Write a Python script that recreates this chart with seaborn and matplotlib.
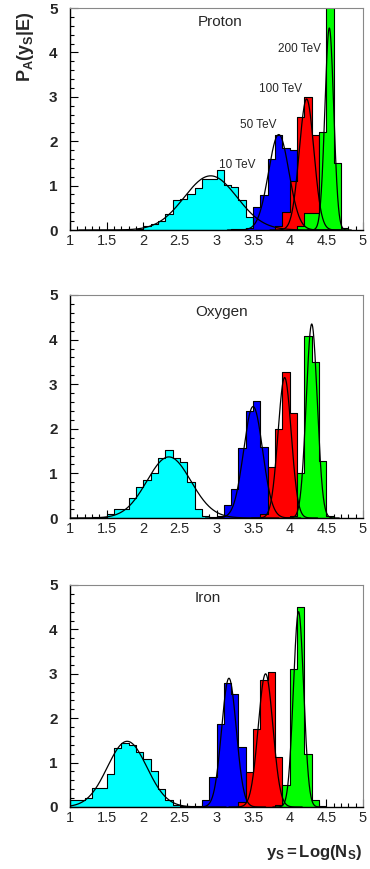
import numpy as np
import pandas as pd
import matplotlib
matplotlib.use("Agg")
import matplotlib.pyplot as plt
import seaborn as sns
from matplotlib.ticker import MultipleLocator, FuncFormatter

sns.set_theme(style="white")
plt.rcParams["font.family"] = ["Liberation Sans", "DejaVu Sans"]
plt.rcParams["mathtext.fontset"] = "custom"
plt.rcParams["mathtext.rm"] = "Liberation Sans"
plt.rcParams["mathtext.it"] = "Liberation Sans:italic"
plt.rcParams["mathtext.bf"] = "Liberation Sans:bold"

# ---------------- data ----------------
primaries = ["Proton", "Oxygen", "Iron"]
energies = ["10 TeV", "50 TeV", "100 TeV", "200 TeV"]
bin_width = 0.1

# Proton: first bin left edge and bin contents
proton_10_start = 1.3
proton_10_vals = [0.01, 0.01, 0.01, 0.01, 0.01, 0.01, 0.03, 0.10, 0.13, 0.20, 0.35,
                  0.68, 0.70, 0.80, 0.95, 1.15, 1.15, 1.35, 1.02, 0.97, 0.68, 0.30, 0.05]
proton_50_start = 3.2
proton_50_vals = [0.02, 0.03, 0.05, 0.52, 0.78, 1.60, 2.15, 1.85, 1.80, 0.50, 0.10]
proton_100_start = 3.8
proton_100_vals = [0.10, 0.40, 1.10, 2.55, 3.00, 2.15, 0.90, 0.20]
proton_200_start = 4.1
proton_200_vals = [0.10, 0.38, 0.38, 2.20, 5.30, 1.50, 0.05]

# Oxygen
oxygen_10_start = 1.3
oxygen_10_vals = [0.02, 0.03, 0.10, 0.20, 0.20, 0.45, 0.70, 0.85, 1.00, 1.35, 1.52,
                  1.35, 1.25, 0.80, 0.20, 0.05, 0.03, 0.02, 0.02]
oxygen_50_start = 3.0
oxygen_50_vals = [0.05, 0.30, 0.65, 1.57, 2.40, 2.62, 1.60, 0.40, 0.05]
oxygen_100_start = 3.6
oxygen_100_vals = [0.10, 1.15, 2.00, 3.28, 2.35, 0.40, 0.05]
oxygen_200_start = 4.0
oxygen_200_vals = [0.05, 1.00, 4.07, 3.50, 1.27, 0.05]

# Iron
iron_10_start = 1.0
iron_10_vals = [0.15, 0.15, 0.20, 0.42, 0.42, 0.75, 1.32, 1.45, 1.40, 1.25, 1.08,
                0.80, 0.40, 0.15, 0.04, 0.02, 0.02]
iron_50_start = 2.7
iron_50_vals = [0.03, 0.15, 0.68, 1.88, 2.80, 2.55, 1.35, 0.30, 0.05]
iron_100_start = 3.3
iron_100_vals = [0.12, 0.78, 1.75, 2.85, 3.05, 1.13, 0.20]
iron_200_start = 3.8
iron_200_vals = [0.05, 0.50, 3.10, 4.50, 1.20, 0.15, 0.03]

# Gaussian fit parameters (mean, sigma, peak)
proton_fit_mean = [2.92, 3.85, 4.23, 4.54]
proton_fit_sigma = [0.36, 0.14, 0.10, 0.06]
proton_fit_peak = [1.22, 2.15, 2.95, 4.55]
oxygen_fit_mean = [2.35, 3.50, 3.93, 4.30]
oxygen_fit_sigma = [0.30, 0.13, 0.09, 0.075]
oxygen_fit_peak = [1.37, 2.50, 3.15, 4.35]
iron_fit_mean = [1.78, 3.17, 3.67, 4.12]
iron_fit_sigma = [0.27, 0.10, 0.10, 0.07]
iron_fit_peak = [1.48, 2.90, 3.00, 4.40]

# energy label positions (proton panel)
energy_label_x = [3.29, 3.57, 3.88, 4.13]
energy_label_y = [1.46, 2.36, 3.17, 4.07]

colors = ["#00FFFF", "#0000FF", "#FF0000", "#00FF00"]

panels = [
    ([(proton_10_start, proton_10_vals), (proton_50_start, proton_50_vals),
      (proton_100_start, proton_100_vals), (proton_200_start, proton_200_vals)],
     (proton_fit_mean, proton_fit_sigma, proton_fit_peak), (3.05, 4.68)),
    ([(oxygen_10_start, oxygen_10_vals), (oxygen_50_start, oxygen_50_vals),
      (oxygen_100_start, oxygen_100_vals), (oxygen_200_start, oxygen_200_vals)],
     (oxygen_fit_mean, oxygen_fit_sigma, oxygen_fit_peak), (3.07, 4.62)),
    ([(iron_10_start, iron_10_vals), (iron_50_start, iron_50_vals),
      (iron_100_start, iron_100_vals), (iron_200_start, iron_200_vals)],
     (iron_fit_mean, iron_fit_sigma, iron_fit_peak), (2.88, 4.70)),
]

# ---------------- figure ----------------
W, H = 370, 869
fig = plt.figure(figsize=(W / 100, H / 100), dpi=100)
axes_px = [(8, 230), (295, 518), (585, 807)]
left_px, right_px = 70, 363

for i, (hists, fits, title_pos) in enumerate(panels):
    top, bot = axes_px[i]
    ax = fig.add_axes([left_px / W, 1 - bot / H, (right_px - left_px) / W, (bot - top) / H])
    for (start, vals), c in zip(hists, colors):
        n = len(vals)
        centers = start + bin_width * (np.arange(n) + 0.5)
        df = pd.DataFrame({"ys": centers, "w": vals})
        sns.histplot(data=df, x="ys", weights="w", bins=n,
                     binrange=(start, start + bin_width * n),
                     element="step", fill=True, color=c, alpha=1.0,
                     edgecolor="black", linewidth=0.8, ax=ax)
    for m, s, p in zip(*fits):
        xs = np.linspace(max(1.0, m - 5 * s), min(5.0, m + 5 * s), 300)
        ys = p * np.exp(-0.5 * ((xs - m) / s) ** 2)
        sns.lineplot(x=xs, y=ys, color="black", linewidth=0.9, ax=ax, sort=False,
                     estimator=None)
    ax.set_xlim(1, 5)
    ax.set_ylim(0, 5)
    ax.set_xlabel("")
    ax.set_ylabel("")
    ax.xaxis.set_major_locator(MultipleLocator(0.5))
    ax.xaxis.set_minor_locator(MultipleLocator(0.1))
    ax.yaxis.set_major_locator(MultipleLocator(1))
    ax.yaxis.set_minor_locator(MultipleLocator(0.2))
    ax.xaxis.set_major_formatter(FuncFormatter(lambda v, _: f"{v:g}"))
    ax.yaxis.set_major_formatter(FuncFormatter(lambda v, _: f"{v:g}"))
    ax.tick_params(which="both", direction="in", top=False, right=False,
                   bottom=True, left=True, color="black", width=0.8)
    ax.tick_params(which="major", length=6)
    ax.tick_params(which="minor", length=3)
    ax.tick_params(axis="x", labelsize=10.5, pad=3)
    ax.tick_params(axis="y", labelsize=11, pad=9)
    for lab in ax.get_yticklabels():
        lab.set_fontweight("bold")
    for sp in ["left", "bottom"]:
        ax.spines[sp].set_color("black")
        ax.spines[sp].set_linewidth(1.0)
    for sp in ["top", "right"]:
        ax.spines[sp].set_color("#888888")
        ax.spines[sp].set_linewidth(0.8)
    ax.text(title_pos[0], title_pos[1], primaries[i], ha="center", va="center", fontsize=11)
    if i == 0:
        for lx, ly, lt in zip(energy_label_x, energy_label_y, energies):
            ax.text(lx, ly, lt, ha="center", va="center", fontsize=8.5)

fig.text(25 / W, 1 - 47 / H, r"$\mathbf{P_{A}(y_{S}|E)}$", rotation=90,
         ha="center", va="center", fontsize=13)
fig.text(362 / W, 1 - 853 / H, r"$\mathbf{y_{S}{=}Log(N_{S})}$",
         ha="right", va="center", fontsize=12)

fig.savefig("out.png", dpi=100)
